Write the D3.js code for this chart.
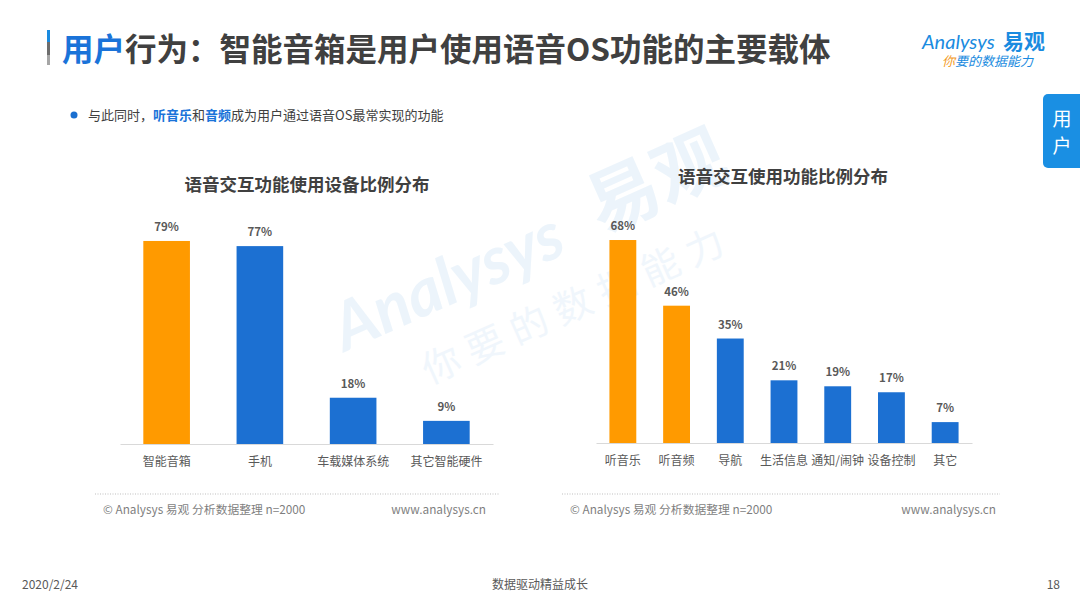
<!DOCTYPE html>
<html>
<head>
<meta charset="utf-8">
<script src="https://cdn.jsdelivr.net/npm/d3@7"></script>
<style>
  body { margin: 0; background: #fff; }
  svg { display: block; font-family: "Noto Sans CJK SC", "Noto Sans", sans-serif; }
</style>
</head>
<body>
<div id="chart"></div>
<script>
// data
var deviceCats = ["智能音箱", "手机", "车载媒体系统", "其它智能硬件"];
var deviceVals = [79, 77, 18, 9];
var funcCats = ["听音乐", "听音频", "导航", "生活信息", "通知/闹钟", "设备控制", "其它"];
var funcVals = [68, 46, 35, 21, 19, 17, 7];

var orange = "#ff9a00";
var blue = "#1c70d2";
var grey = "#595959";

var svg = d3.select("#chart").append("svg")
  .attr("width", 1080)
  .attr("height", 608);

// watermark, behind everything
var wm = svg.append("g")
  .attr("transform", "translate(345,352) rotate(-24)")
  .attr("opacity", 0.45);
wm.append("text")
  .attr("x", 0).attr("y", 0)
  .style("font-size", "66px").style("font-weight", "bold").style("font-style", "italic")
  .style("font-family", "Lato, sans-serif")
  .attr("fill", "#d6e8f7")
  .text("Analysys");
wm.append("text")
  .attr("x", 282).attr("y", -4)
  .style("font-size", "72px").style("font-weight", "bold")
  .attr("fill", "#d6e8f7")
  .text("易观");
wm.append("text")
  .attr("x", 64).attr("y", 64)
  .style("font-size", "38px").style("letter-spacing", "10px")
  .attr("fill", "#e0edf9")
  .text("你要的数据能力");

// header
svg.append("rect").attr("x", 47).attr("y", 30).attr("width", 3).attr("height", 12).attr("fill", "#1a8be0");
svg.append("rect").attr("x", 47).attr("y", 42).attr("width", 3).attr("height", 13).attr("fill", "#6d6d6d");
svg.append("rect").attr("x", 47).attr("y", 55).attr("width", 3).attr("height", 10).attr("fill", "#a6a6a6");

var title = svg.append("text")
  .attr("x", 62).attr("y", 61)
  .style("font-size", "31.5px").style("font-weight", "bold")
  .attr("fill", "#404040");
title.append("tspan").attr("fill", "#1a73d9").text("用户");
title.append("tspan").text("行为：智能音箱是用户使用语音OS功能的主要载体");

// logo
var logo = svg.append("g");
logo.append("text")
  .attr("x", 922).attr("y", 49)
  .style("font-size", "20px").style("font-style", "italic")
  .style("font-family", "Lato, sans-serif")
  .attr("fill", "#1a8be0")
  .text("Analysys");
logo.append("text")
  .attr("x", 1003).attr("y", 49)
  .style("font-size", "21px").style("font-weight", "bold")
  .attr("fill", "#1a8be0")
  .text("易观");
var slogan = logo.append("text")
  .attr("x", 942).attr("y", 66)
  .style("font-size", "13px").style("font-style", "italic")
  .attr("fill", "#1a8be0");
slogan.append("tspan").attr("fill", "#f39a1e").text("你");
slogan.append("tspan").text("要的数据能力");

// side tab
svg.append("rect")
  .attr("x", 1043).attr("y", 94).attr("width", 50).attr("height", 74)
  .attr("rx", 5).attr("fill", "#1a8fe3");
svg.append("text").attr("x", 1062).attr("y", 126)
  .attr("text-anchor", "middle").attr("fill", "#fff")
  .style("font-size", "19px").text("用");
svg.append("text").attr("x", 1062).attr("y", 153)
  .attr("text-anchor", "middle").attr("fill", "#fff")
  .style("font-size", "19px").text("户");

// bullet line
svg.append("circle").attr("cx", 74).attr("cy", 115).attr("r", 3.5).attr("fill", "#1a6fd0");
var sub = svg.append("text")
  .attr("x", 88).attr("y", 120)
  .style("font-size", "13px")
  .attr("fill", "#404040");
sub.append("tspan").text("与此同时，");
sub.append("tspan").attr("fill", "#1a73d9").style("font-weight", "bold").text("听音乐");
sub.append("tspan").text("和");
sub.append("tspan").attr("fill", "#1a73d9").style("font-weight", "bold").text("音频");
sub.append("tspan").text("成为用户通过语音OS最常实现的功能");

function drawChart(opts) {
  var g = svg.append("g");

  var x = d3.scaleBand()
    .domain(opts.cats)
    .range([opts.x0, opts.x1])
    .paddingInner(0.5)
    .paddingOuter(0.25);

  var y = d3.scaleLinear()
    .domain([0, 100])
    .range([opts.base, opts.base - opts.h100]);

  g.append("text")
    .attr("x", opts.titleX).attr("y", opts.titleY)
    .attr("text-anchor", "middle")
    .style("font-size", "17.5px").style("font-weight", "bold")
    .attr("fill", "#404040")
    .text(opts.title);

  // baseline
  var axis = d3.axisBottom(x).tickSize(0).tickPadding(13);
  var ax = g.append("g")
    .attr("transform", `translate(0, ${opts.base})`)
    .call(axis);
  ax.select(".domain").attr("stroke", "#d9d9d9");
  ax.selectAll("text")
    .style("font-size", "12px")
    .style("font-family", "'Noto Sans CJK SC', sans-serif")
    .attr("fill", grey);

  g.selectAll("rect.bar")
    .data(opts.vals)
    .enter()
    .append("rect")
    .attr("class", "bar")
    .attr("x", (d, i) => x(opts.cats[i]))
    .attr("y", d => y(d))
    .attr("width", x.bandwidth())
    .attr("height", d => y(0) - y(d))
    .attr("fill", (d, i) => i < opts.highlight ? orange : blue);

  g.selectAll("text.val")
    .data(opts.vals)
    .enter()
    .append("text")
    .attr("class", "val")
    .attr("x", (d, i) => x(opts.cats[i]) + x.bandwidth() / 2)
    .attr("y", d => y(d) - 10)
    .attr("text-anchor", "middle")
    .style("font-size", "11.5px").style("font-weight", "bold")
    .attr("fill", grey)
    .text(d => d + "%");

  // dotted separator + source
  g.append("line")
    .attr("x1", opts.lineX0).attr("x2", opts.lineX1)
    .attr("y1", 494).attr("y2", 494)
    .attr("stroke", "#bfbfbf").attr("stroke-dasharray", "1,1.5");
  g.append("text")
    .attr("x", opts.lineX0 + 8).attr("y", 514)
    .style("font-size", "11.8px").attr("fill", "#7f7f7f")
    .text("© Analysys 易观 分析数据整理 n=2000");
  g.append("text")
    .attr("x", opts.srcRight).attr("y", 514)
    .attr("text-anchor", "end")
    .style("font-size", "11.8px").attr("fill", "#7f7f7f")
    .text("www.analysys.cn");
}

drawChart({
  cats: deviceCats, vals: deviceVals, highlight: 1,
  title: "语音交互功能使用设备比例分布", titleX: 307, titleY: 191,
  x0: 120, x1: 493, base: 444, h100: 257,
  lineX0: 95, lineX1: 500, srcRight: 486
});

drawChart({
  cats: funcCats, vals: funcVals, highlight: 2,
  title: "语音交互使用功能比例分布", titleX: 783, titleY: 183,
  x0: 596, x1: 972, base: 443, h100: 298.5,
  lineX0: 562, lineX1: 1000, srcRight: 996
});

// footer
svg.append("text").attr("x", 22).attr("y", 589)
  .style("font-size", "12px").attr("fill", grey).text("2020/2/24");
svg.append("text").attr("x", 540).attr("y", 589).attr("text-anchor", "middle")
  .style("font-size", "12px").attr("fill", grey).text("数据驱动精益成长");
svg.append("text").attr("x", 1060).attr("y", 589).attr("text-anchor", "end")
  .style("font-size", "12px").attr("fill", grey).text("18");
</script>
</body>
</html>
